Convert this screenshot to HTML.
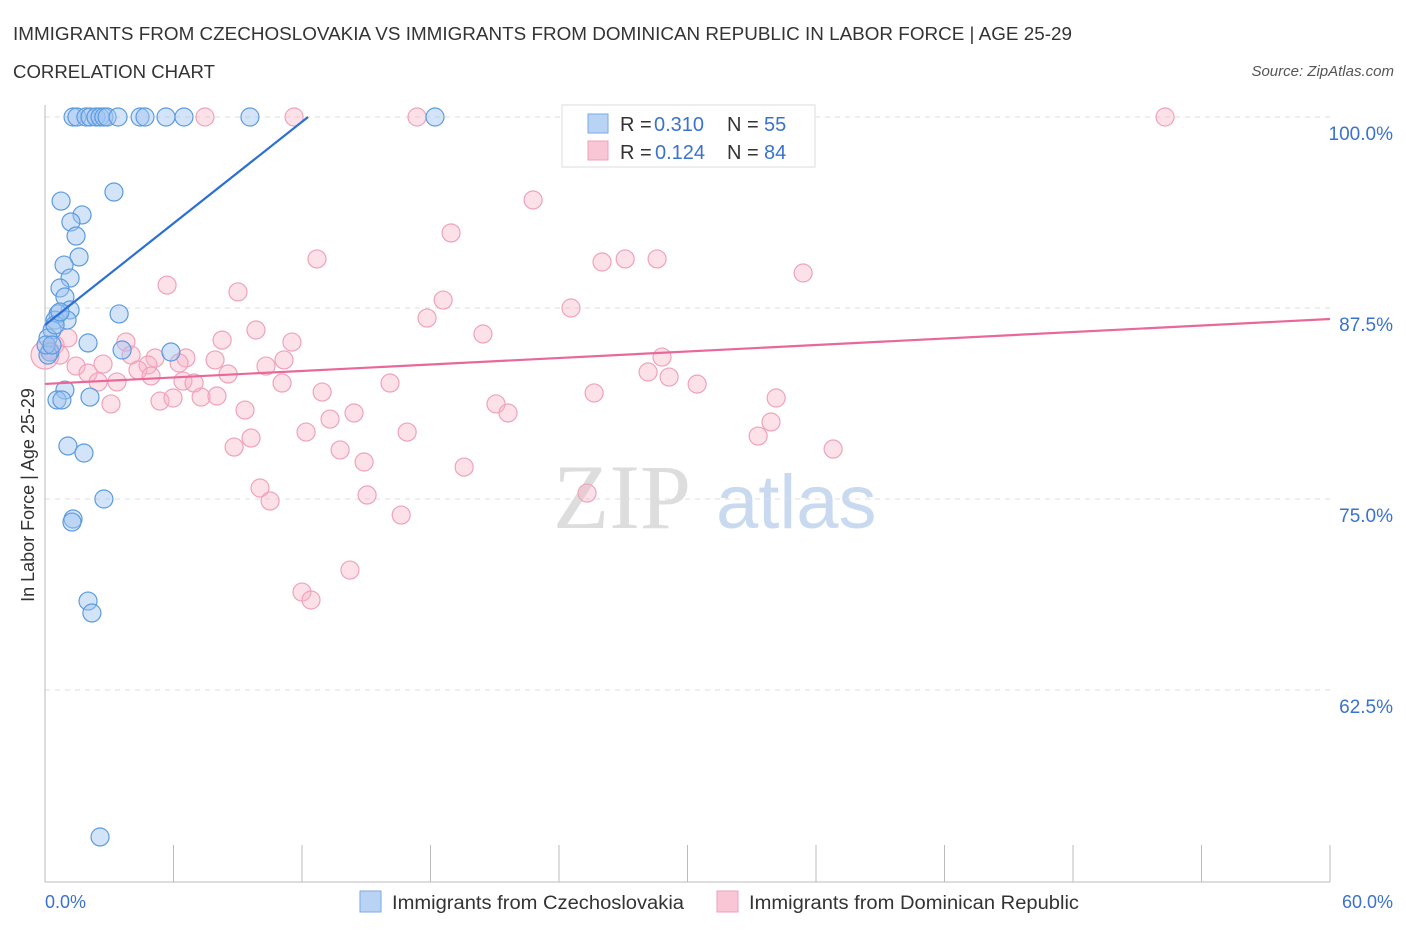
<!DOCTYPE html>
<html><head><meta charset="utf-8"><style>
body{margin:0;background:#fff;font-family:"Liberation Sans",sans-serif;}
svg{display:block}
</style></head><body>
<svg id="chart" width="1406" height="930" xmlns="http://www.w3.org/2000/svg">
<text x="13" y="40" font-size="18" fill="#333" textLength="1059" lengthAdjust="spacingAndGlyphs">IMMIGRANTS FROM CZECHOSLOVAKIA VS IMMIGRANTS FROM DOMINICAN REPUBLIC IN LABOR FORCE | AGE 25-29</text>
<text x="13" y="78" font-size="18" fill="#333" textLength="202" lengthAdjust="spacingAndGlyphs">CORRELATION CHART</text>
<text x="1394" y="76" font-size="15" fill="#555" font-style="italic" text-anchor="end">Source: ZipAtlas.com</text>
<g>
<text x="553" y="528" font-size="92" fill="#ddd" font-family="Liberation Serif,serif">ZIP</text>
<text x="716" y="528" font-size="76" fill="#c9daf0">atlas</text>
</g>
<g id="grid"></g>
<g id="axes"></g>
<g id="marks"></g>
<text x="34" y="495" font-size="18" fill="#333" text-anchor="middle" transform="rotate(-90 34 495)">In Labor Force | Age 25-29</text>
<text x="45" y="908" font-size="18" fill="#3a72d0">0.0%</text>
<text x="1393" y="908" font-size="18" fill="#3a72d0" text-anchor="end">60.0%</text>
<g>
<rect x="562" y="105" width="253" height="62" fill="#fff" stroke="#ddd"/>
<rect x="588" y="114" width="20" height="19" fill="#b9d3f5" stroke="#7aa9e6"/>
<text x="620" y="131" font-size="20" fill="#333">R =</text><text x="654" y="131" font-size="20" fill="#3a72d0">0.310</text>
<text x="727" y="131" font-size="20" fill="#333">N =</text><text x="764" y="131" font-size="20" fill="#3a72d0">55</text>
<rect x="588" y="141" width="20" height="19" fill="#f9c6d6" stroke="#eea0b8"/>
<text x="620" y="159" font-size="20" fill="#333">R =</text><text x="655" y="159" font-size="20" fill="#3a72d0">0.124</text>
<text x="727" y="159" font-size="20" fill="#333">N =</text><text x="764" y="159" font-size="20" fill="#3a72d0">84</text>
</g>
<g>
<rect x="360" y="891" width="21" height="21" fill="#b9d3f5" stroke="#7aa9e6"/>
<text x="392" y="909" font-size="19" fill="#333" textLength="292" lengthAdjust="spacingAndGlyphs">Immigrants from Czechoslovakia</text>
<rect x="717" y="891" width="21" height="21" fill="#f9c6d6" stroke="#eea0b8"/>
<text x="749" y="909" font-size="19" fill="#333" textLength="330" lengthAdjust="spacingAndGlyphs">Immigrants from Dominican Republic</text>
</g>
</svg>
<script>
const yTicks=[100,87.5,75,62.5];
const yTickLabels=["100.0%","87.5%","75.0%","62.5%"];
const xTicks=[0,6,12,18,24,30,36,42,48,54,60];
const czX=[1.31,1.49,1.91,2.10,2.38,2.57,2.75,2.90,3.41,4.44,4.67,5.65,6.49,9.57,18.21,3.22,0.75,1.73,1.21,1.45,1.59,0.89,1.17,0.70,0.93,1.17,0.61,0.47,1.03,3.46,0.33,2.01,0.14,0.23,3.60,5.88,0.93,2.10,0.56,0.79,1.07,1.82,2.75,1.31,1.26,2.01,2.19,2.57,0.14,0.05,0.33,0.47,0.70];
const czY=[100,100,100,100,100,100,100,100,100,100,100,100,100,100,100,95.09,94.50,93.59,93.13,92.21,90.84,90.31,89.46,88.81,88.22,87.37,87.11,86.71,86.71,87.11,86.06,85.21,85.54,84.62,84.75,84.62,82.13,81.67,81.48,81.48,78.47,78.01,75.00,73.69,73.49,68.32,67.54,52.88,84.42,85.08,85.08,86.39,87.24];
const drX=[7.47,11.63,17.37,52.30,22.79,18.96,12.70,26.01,27.09,28.58,35.40,5.70,9.01,18.59,24.56,17.84,9.85,20.45,8.27,11.53,3.78,1.07,0.47,0.23,0.70,5.14,7.94,6.58,11.16,4.02,28.81,2.71,1.45,2.01,4.81,6.26,4.34,8.55,10.32,4.95,28.16,29.14,6.44,6.96,3.36,2.48,11.07,16.11,30.45,12.94,25.64,7.29,8.03,5.37,5.98,3.08,21.06,21.62,34.14,9.34,14.43,13.31,12.19,16.91,33.90,33.30,9.62,8.83,13.78,36.80,14.90,19.57,10.04,10.51,15.04,25.31,16.63,14.24,12.00,12.42,0.0];
const drY=[100,100,100,100,94.57,92.41,90.71,90.51,90.71,90.71,89.79,89.00,88.55,88.02,87.50,86.84,86.06,85.80,85.40,85.27,85.27,85.54,85.08,84.75,84.42,84.23,84.10,84.23,84.10,84.42,84.29,83.83,83.70,83.24,83.77,83.90,83.44,83.18,83.70,83.05,83.31,82.98,82.72,82.59,82.66,82.66,82.59,82.59,82.52,82.00,81.94,81.67,81.74,81.41,81.61,81.22,81.22,80.63,81.61,80.82,80.63,80.23,79.38,79.38,80.04,79.12,78.99,78.40,78.21,78.27,77.42,77.09,75.72,74.87,75.26,75.39,73.95,70.35,68.91,68.39,84.42];
const czTrend=[86.39,1.108];
const drTrend=[82.53,0.0708];
const NS="http://www.w3.org/2000/svg";
const X=v=>45+v/60*1285;
const Y=v=>117+(100-v)/12.5*191;
function mk(tag,attrs,parent){const e=document.createElementNS(NS,tag);for(const k in attrs)e.setAttribute(k,attrs[k]);parent.appendChild(e);return e;}
const grid=document.getElementById('grid'),axes=document.getElementById('axes'),marks=document.getElementById('marks');
yTicks.forEach((t,i)=>{
 const l=mk('line',{x1:45,x2:1330,y1:Y(t),y2:Y(t),stroke:'#ddd','stroke-dasharray':'5,5'},grid);
 
 
 const tx=mk('text',{x:1393,y:Y(t)+23,'font-size':19,fill:'#3a72d0','text-anchor':'end'},grid);
 tx.textContent=yTickLabels[i];
 
 
});
const ax1=mk('line',{x1:45,x2:45,y1:105,y2:882,stroke:'#bbb'},axes);


const ax2=mk('line',{x1:45,x2:1330,y1:882,y2:882,stroke:'#bbb'},axes);


xTicks.forEach(t=>{
 const l=mk('line',{x1:X(t),x2:X(t),y1:845,y2:882,stroke:'#bbb'},axes);
 
 
});
drX.forEach((x,i)=>{
 const c=mk('circle',{cx:X(x),cy:Y(drY[i]),r:(i===drX.length-1)?14:9,fill:'rgba(248,180,200,0.4)',stroke:'#f0a2ba','stroke-width':1.2},marks);
 
 
});
czX.forEach((x,i)=>{
 const c=mk('circle',{cx:X(x),cy:Y(czY[i]),r:9,fill:'rgba(160,196,240,0.45)',stroke:'#5b9be0','stroke-width':1.2},marks);
 
 
});
const czEnd=(100-czTrend[0])/czTrend[1];
const l1=mk('line',{x1:X(0),y1:Y(czTrend[0]),x2:X(czEnd),y2:Y(100),stroke:'#2b6fd6','stroke-width':2.2},marks);


const l2=mk('line',{x1:X(0),y1:Y(drTrend[0]),x2:X(60),y2:Y(drTrend[0]+drTrend[1]*60),stroke:'#e8689a','stroke-width':2.2},marks);


</script>
</body></html>
